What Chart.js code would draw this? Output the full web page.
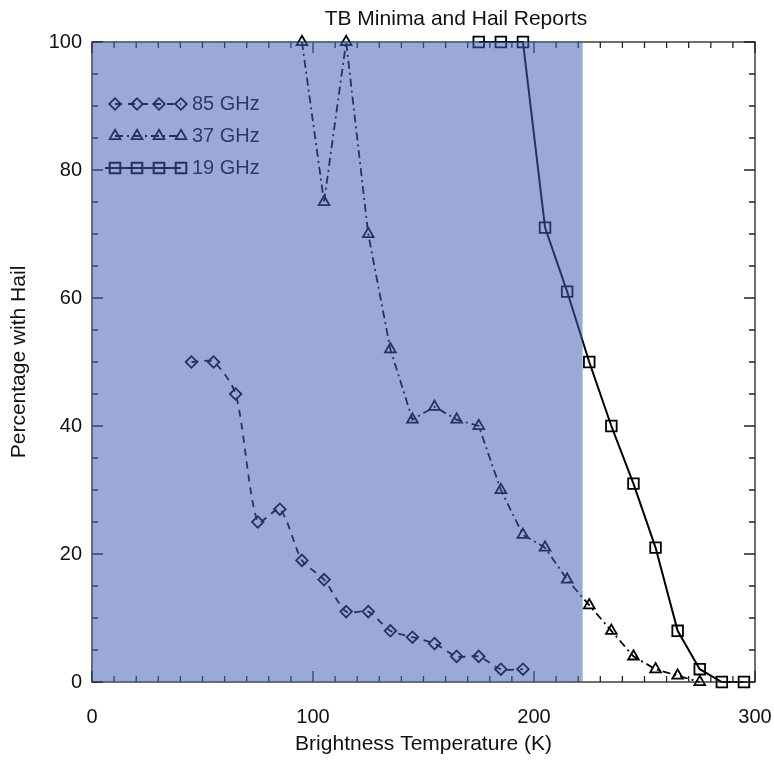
<!DOCTYPE html>
<html>
<head>
<meta charset="utf-8">
<title>TB Minima and Hail Reports</title>
<script src="https://cdn.jsdelivr.net/npm/chart.js@4/dist/chart.umd.min.js"></script>
<style>
  html, body { margin: 0; padding: 0; background: #fff; }
</style>
</head>
<body>
<canvas id="myChart" width="774" height="762"></canvas>
<script>
// Values: brightness temperature (K) and % with hail
var temps85 = [45, 55, 65, 75, 85, 95, 105, 115, 125, 135, 145, 155, 165, 175, 185, 195];
var hail85 = [50, 50, 45, 25, 27, 19, 16, 11, 11, 8, 7, 6, 4, 4, 2, 2];

var temps37 = [95, 105, 115, 125, 135, 145, 155, 165, 175, 185, 195, 205, 215, 225, 235, 245, 255, 265, 275];
var hail37 = [100, 75, 100, 70, 52, 41, 43, 41, 40, 30, 23, 21, 16, 12, 8, 4, 2, 1, 0];

var temps19 = [175, 185, 195, 205, 215, 225, 235, 245, 255, 265, 275, 285, 295];
var hail19 = [100, 100, 100, 71, 61, 50, 40, 31, 21, 8, 2, 0, 0];

var seriesNames = ['85 GHz', '37 GHz', '19 GHz'];
var xTickValues = [0, 100, 200, 300];
var yTickValues = [0, 20, 40, 60, 80, 100];

// Shaded band goes from 0 K up to this temperature
var shadeLimit = 222;

var FONT = '"Liberation Sans", Arial, Helvetica, sans-serif';
var INK = '#111';

Chart.defaults.font.family = FONT;
Chart.defaults.color = INK;

function toPoints(xs, ys) {
    var pts = [];
    for (var i = 0; i < xs.length; i++) {
        pts.push({x: xs[i], y: ys[i]});
    }
    return pts;
}

var styles = [
    {pointStyle: 'rectRot', radius: 5.8, dash: [7, 6], width: 1.8, tension: 0.25},
    {pointStyle: 'triangle', radius: 6.2, dash: [8, 4, 2, 4], width: 1.8, tension: 0},
    {pointStyle: 'rect', radius: 7.5, dash: [], width: 2, tension: 0}
];

function makeDataset(i, xs, ys) {
    return {
        label: seriesNames[i],
        data: toPoints(xs, ys),
        showLine: true,
        borderColor: '#000',
        borderWidth: styles[i].width,
        borderDash: styles[i].dash,
        tension: styles[i].tension,
        pointStyle: styles[i].pointStyle,
        pointRadius: styles[i].radius,
        pointBorderWidth: 1.8,
        pointBorderColor: '#000',
        pointBackgroundColor: 'rgba(0,0,0,0)',
        clip: false
    };
}

// Ticks on all four sides pointing inward, plus the box, legend and title
var framePlugin = {
    id: 'frame',
    afterDatasetsDraw: function(chart) {
        var ctx = chart.ctx;
        var a = chart.chartArea;
        var xs = chart.scales.x;
        var ys = chart.scales.y;
        ctx.save();
        ctx.strokeStyle = '#222';
        ctx.lineWidth = 1.3;
        ctx.setLineDash([]);
        ctx.strokeRect(a.left, a.top, a.right - a.left, a.bottom - a.top);

        ctx.beginPath();
        for (var t = 0; t <= 300; t += 10) {
            var px = xs.getPixelForValue(t);
            var len = (t % 100 === 0) ? 11 : 6;
            ctx.moveTo(px, a.bottom); ctx.lineTo(px, a.bottom - len);
            ctx.moveTo(px, a.top); ctx.lineTo(px, a.top + len);
        }
        for (var v = 0; v <= 100; v += 5) {
            var py = ys.getPixelForValue(v);
            var l2 = (v % 20 === 0) ? 11 : 6;
            ctx.moveTo(a.left, py); ctx.lineTo(a.left + l2, py);
            ctx.moveTo(a.right, py); ctx.lineTo(a.right - l2, py);
        }
        ctx.stroke();

        // legend
        ctx.font = '20px ' + FONT;
        ctx.textBaseline = 'middle';
        ctx.textAlign = 'left';
        for (var i = 0; i < 3; i++) {
            var rowY = a.top + 62 + i * 32;
            var x0 = a.left + 23;
            ctx.strokeStyle = '#000';
            ctx.lineWidth = styles[i].width;
            ctx.setLineDash(styles[i].dash);
            ctx.beginPath();
            ctx.moveTo(i === 2 ? x0 - 10 : x0, rowY);
            ctx.lineTo(x0 + 66, rowY);
            ctx.stroke();
            ctx.setLineDash([]);
            ctx.fillStyle = 'rgba(0,0,0,0)';
            for (var k = 0; k < 4; k++) {
                Chart.helpers.drawPoint(ctx, {
                    pointStyle: styles[i].pointStyle,
                    radius: styles[i].radius,
                    borderWidth: 1.8,
                    rotation: 0
                }, x0 + k * 22, rowY);
            }
            ctx.fillStyle = INK;
            ctx.fillText(seriesNames[i], x0 + 77, rowY);
        }
        ctx.restore();
    },
    afterDraw: function(chart) {
        var ctx = chart.ctx;
        var a = chart.chartArea;
        var xEnd = chart.scales.x.getPixelForValue(shadeLimit);
        ctx.save();
        // translucent blue band laid over the data
        ctx.fillStyle = 'rgba(65, 93, 178, 0.535)';
        ctx.fillRect(a.left, a.top, xEnd - a.left, a.bottom - a.top);

        ctx.fillStyle = INK;
        ctx.font = '21px ' + FONT;
        ctx.textAlign = 'center';
        ctx.textBaseline = 'alphabetic';
        ctx.fillText('TB Minima and Hail Reports', 456, 25);
        ctx.restore();
    }
};

var ctx = document.getElementById('myChart').getContext('2d');
var myChart = new Chart(ctx, {
    type: 'scatter',
    data: {
        datasets: [
            makeDataset(0, temps85, hail85),
            makeDataset(1, temps37, hail37),
            makeDataset(2, temps19, hail19)
        ]
    },
    options: {
        responsive: false,
        animation: false,
        layout: {padding: {top: 42, right: 19, left: 0, bottom: 0}},
        plugins: {
            legend: {display: false},
            tooltip: {enabled: false},
            title: {display: false}
        },
        scales: {
            x: {
                type: 'linear',
                min: 0,
                max: 300,
                afterBuildTicks: function(s) {
                    s.ticks = xTickValues.map(function(v) { return {value: v}; });
                },
                ticks: {padding: 15, maxRotation: 0, font: {size: 20}, color: INK},
                grid: {display: false},
                border: {display: false},
                title: {
                    display: true,
                    text: 'Brightness Temperature (K)',
                    font: {size: 21},
                    color: INK,
                    padding: {top: 0, bottom: 5}
                },
                afterFit: function(s) {
                    s.height = 80;
                    s.paddingLeft = 0;
                    s.paddingRight = 0;
                }
            },
            y: {
                min: 0,
                max: 100,
                afterBuildTicks: function(s) {
                    s.ticks = yTickValues.map(function(v) { return {value: v}; });
                },
                ticks: {padding: 2, font: {size: 20}, color: INK},
                grid: {display: false},
                border: {display: false},
                title: {
                    display: true,
                    text: 'Percentage with Hail',
                    font: {size: 21},
                    color: INK,
                    padding: {top: 7, bottom: 0}
                },
                afterFit: function(s) {
                    s.width = 92;
                    s.paddingTop = 0;
                    s.paddingBottom = 0;
                }
            }
        }
    },
    plugins: [framePlugin]
});
</script>
</body>
</html>
